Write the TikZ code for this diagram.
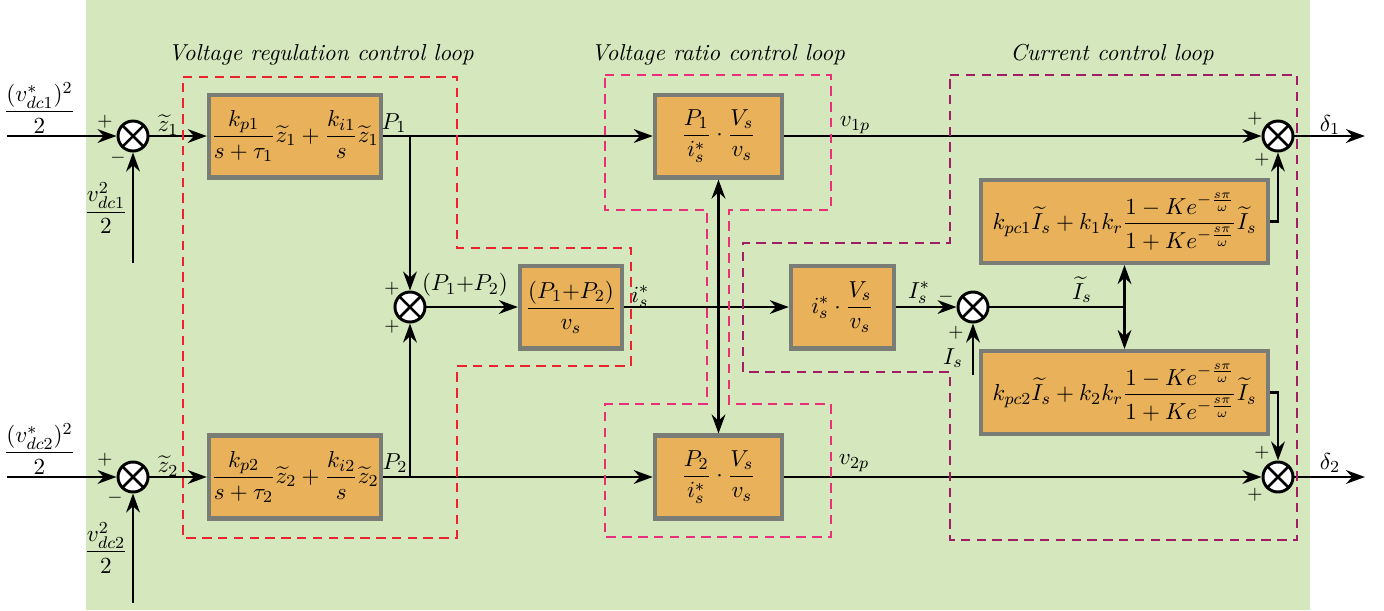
\documentclass[tikz,border=0pt]{standalone}
\usepackage{amsmath,amssymb}
\usepackage{tikz}
\usetikzlibrary{arrows.meta,positioning,calc}
\definecolor{bggreen}{RGB}{213,232,189}
\definecolor{blockorange}{RGB}{233,178,90}
\definecolor{blockgray}{RGB}{122,125,118}
\definecolor{loopred}{RGB}{236,34,46}
\definecolor{looppink}{RGB}{232,48,120}
\definecolor{looppurple}{RGB}{160,30,100}
\newcommand{\tz}{\widetilde{z}}
\newcommand{\tI}{\widetilde{I}}

\begin{document}
\begin{tikzpicture}[
  font=\fontsize{10.95}{13.6}\selectfont,
  blk/.style={draw=blockgray, fill=blockorange, line width=2pt, inner sep=0pt,
    minimum height=1.38cm, align=center},
  sumnode/.style={circle, draw, fill=white, line width=1.4pt, minimum size=0.5cm, inner sep=0pt,
    path picture={\draw[line width=1.2pt]
      (path picture bounding box.north west) -- (path picture bounding box.south east)
      (path picture bounding box.north east) -- (path picture bounding box.south west);}},
  sig/.style={-{Stealth[length=9pt,width=6.5pt]}, line width=1.3pt},
  wire/.style={line width=1.3pt},
  sgn/.style={font=\small, inner sep=0pt},
  lbl/.style={inner sep=0pt},
  title/.style={font=\fontsize{10.95}{13.6}\selectfont\itshape, inner sep=0pt},
  loop/.style={dash pattern=on 4.5pt off 3pt, line width=1.1pt},
]
  \useasboundingbox (0,0) rectangle (23.067,-10.167);
  \fill[bggreen] (1.433,0) rectangle (21.833,-10.167);

  % titles
  \node[title] (t1) at (5.35,-0.917) {Voltage regulation control loop};
  \node[title] (t2) at (11.967,-0.917) {Voltage ratio control loop};
  \node[title] (t3) at (18.533,-0.917) {Current control loop};

  % summing junctions
  \node[sumnode] (s1) at (2.217,-2.267) {};
  \node[sumnode] (s2) at (2.217,-7.95) {};
  \node[sumnode] (s3) at (6.833,-5.117) {};
  \node[sumnode] (s4) at (16.217,-5.117) {};
  \node[sumnode] (s5) at (21.3,-2.267) {};
  \node[sumnode] (s6) at (21.3,-7.95) {};

  % blocks
  \node[blk, minimum width=2.87cm] (b1) at (4.917,-2.267)
    {$\dfrac{k_{p1}}{s+\tau_1}\tz_1+\dfrac{k_{i1}}{s}\tz_1$};
  \node[blk, minimum width=2.87cm] (b2) at (4.917,-7.95)
    {$\dfrac{k_{p2}}{s+\tau_2}\tz_2+\dfrac{k_{i2}}{s}\tz_2$};
  \node[blk, minimum width=1.7cm] (bsum) at (9.517,-5.117)
    {$\dfrac{(P_1{+}P_2)}{v_s}$};
  \node[blk, minimum width=2.12cm] (bp1) at (11.975,-2.267)
    {$\dfrac{P_1}{i_s^*}\cdot\dfrac{V_s}{v_s}$};
  \node[blk, minimum width=2.12cm] (bp2) at (11.975,-7.95)
    {$\dfrac{P_2}{i_s^*}\cdot\dfrac{V_s}{v_s}$};
  \node[blk, minimum width=1.72cm] (bi) at (14.042,-5.117)
    {$i_s^*\cdot\dfrac{V_s}{v_s}$};
  \node[blk, minimum width=4.78cm] (bpc1) at (18.742,-3.692)
    {$k_{pc1}\tI_s+k_1k_r\dfrac{1-Ke^{-\frac{s\pi}{\omega}}}{1+Ke^{-\frac{s\pi}{\omega}}}\tI_s$};
  \node[blk, minimum width=4.78cm] (bpc2) at (18.742,-6.542)
    {$k_{pc2}\tI_s+k_2k_r\dfrac{1-Ke^{-\frac{s\pi}{\omega}}}{1+Ke^{-\frac{s\pi}{\omega}}}\tI_s$};

  % free ends and branch points
  \coordinate (in1) at (0.117,-2.267);
  \coordinate (in2) at (0.117,-7.95);
  \coordinate (fb1) at (2.217,-4.383);
  \coordinate (fb2) at (2.217,-10.05);
  \coordinate (j1) at (6.833,-2.267);
  \coordinate (j2) at (6.833,-7.95);
  \coordinate (ji) at (11.975,-5.117);
  \coordinate (fbi) at (16.217,-6.25);
  \coordinate (jc) at (18.742,-5.117);
  \coordinate (out1) at (22.75,-2.267);
  \coordinate (out2) at (22.75,-7.95);

  % labels
  \node[lbl] (lin1) at (0.658,-1.8) {$\dfrac{(v_{dc1}^*)^2}{2}$};
  \node[lbl] (lin2) at (0.658,-7.483) {$\dfrac{(v_{dc2}^*)^2}{2}$};
  \node[lbl] (lfb1) at (1.767,-3.467) {$\dfrac{v_{dc1}^2}{2}$};
  \node[lbl] (lfb2) at (1.767,-9.133) {$\dfrac{v_{dc2}^2}{2}$};
  \node[lbl] (lz1) at (2.8,-2.083) {$\tz_1$};
  \node[lbl] (lz2) at (2.8,-7.767) {$\tz_2$};
  \node[lbl] (lP1) at (6.567,-2.05) {$P_1$};
  \node[lbl] (lP2) at (6.583,-7.717) {$P_2$};
  \node[lbl] (lPs) at (7.75,-4.75) {$(P_1{+}P_2)$};
  \node[lbl] (lis) at (10.67,-4.95) {$i_s^*$};
  \node[lbl] (lv1) at (14.25,-2.083) {$v_{1p}$};
  \node[lbl] (lv2) at (14.233,-7.717) {$v_{2p}$};
  \node[lbl] (lIr) at (15.317,-4.883) {$I_s^*$};
  \node[lbl] (lI) at (15.883,-5.967) {$I_s$};
  \node[lbl] (lIt) at (18.033,-4.833) {$\tI_s$};
  \node[lbl] (ld1) at (22.167,-2.083) {$\delta_1$};
  \node[lbl] (ld2) at (22.167,-7.717) {$\delta_2$};

  % signs
  \node[sgn] (g1) at (1.75,-2.033) {$+$};
  \node[sgn] (g2) at (1.967,-2.633) {$-$};
  \node[sgn] (g3) at (1.75,-7.667) {$+$};
  \node[sgn] (g4) at (1.917,-8.3) {$-$};
  \node[sgn] (g5) at (6.533,-4.817) {$+$};
  \node[sgn] (g6) at (6.533,-5.45) {$+$};
  \node[sgn] (g7) at (15.767,-4.95) {$-$};
  \node[sgn] (g8) at (15.933,-5.55) {$+$};
  \node[sgn] (g9) at (20.917,-1.983) {$+$};
  \node[sgn] (g10) at (21.033,-2.667) {$+$};
  \node[sgn] (g11) at (21.033,-7.55) {$+$};
  \node[sgn] (g12) at (20.917,-8.25) {$+$};

  % connectors
  \draw[sig] (in1) -- (s1);
  \draw[sig] (fb1) -- (s1);
  \draw[sig] (s1) -- (b1);
  \draw[sig] (b1) -- (bp1);
  \draw[sig] (j1) -- (s3);
  \draw[sig] (in2) -- (s2);
  \draw[sig] (fb2) -- (s2);
  \draw[sig] (s2) -- (b2);
  \draw[sig] (b2) -- (bp2);
  \draw[sig] (j2) -- (s3);
  \draw[sig] (s3) -- (bsum);
  \draw[sig] (bsum) -- (bi);
  \draw[sig] (ji) -- (bp1);
  \draw[sig] (ji) -- (bp2);
  \draw[sig] (bp1) -- (s5);
  \draw[sig] (bp2) -- (s6);
  \draw[sig] (bi) -- (s4);
  \draw[sig] (fbi) -- (s4);
  \draw[wire] (s4) -- (jc);
  \draw[sig] (jc) -- (bpc1);
  \draw[sig] (jc) -- (bpc2);
  \draw[sig] (bpc1.east) -| (s5);
  \draw[sig] (bpc2.east) -| (s6);
  \draw[sig] (s5) -- (out1);
  \draw[sig] (s6) -- (out2);

  % dashed loop outlines
  \draw[loop, loopred] (3.05,-1.283) -- (7.617,-1.283) -- (7.617,-4.133) -- (10.517,-4.133)
    -- (10.517,-6.1) -- (7.617,-6.1) -- (7.617,-8.967) -- (3.05,-8.967) -- cycle;
  \draw[loop, looppink] (10.083,-1.25) -- (13.85,-1.25) -- (13.85,-3.5) -- (12.15,-3.5)
    -- (12.15,-6.733) -- (13.85,-6.733) -- (13.85,-8.95) -- (10.083,-8.95) -- (10.083,-6.733)
    -- (11.783,-6.733) -- (11.783,-3.5) -- (10.083,-3.5) -- cycle;
  \draw[loop, looppurple] (15.833,-1.25) -- (21.617,-1.25) -- (21.617,-9.0) -- (15.833,-9.0)
    -- (15.833,-6.2) -- (12.383,-6.2) -- (12.383,-4.05) -- (15.833,-4.05) -- cycle;
\end{tikzpicture}
\end{document}
